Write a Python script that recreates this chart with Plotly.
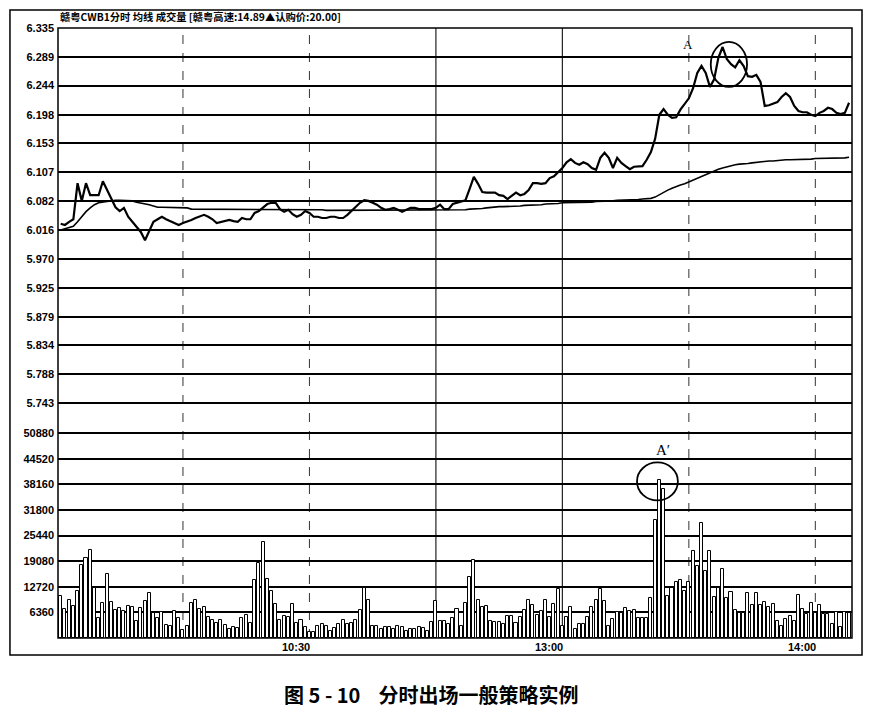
import plotly.graph_objects as go

# ---------------- data ----------------
price = [6.026, 6.024, 6.029, 6.033, 6.090, 6.062, 6.090, 6.071, 6.071, 6.071,
         6.093, 6.079, 6.067, 6.052, 6.046, 6.051, 6.037, 6.029, 6.022, 6.013,
         6.000, 6.014, 6.029, 6.033, 6.037, 6.033, 6.030, 6.026, 6.024, 6.027,
         6.029, 6.032, 6.035, 6.038, 6.040, 6.037, 6.033, 6.027, 6.029, 6.030,
         6.032, 6.030, 6.029, 6.035, 6.033, 6.033, 6.043, 6.046, 6.051, 6.057,
         6.059, 6.059, 6.049, 6.045, 6.048, 6.041, 6.037, 6.040, 6.046, 6.043,
         6.037, 6.037, 6.035, 6.035, 6.037, 6.037, 6.035, 6.035, 6.040, 6.046,
         6.052, 6.059, 6.063, 6.062, 6.059, 6.056, 6.051, 6.048, 6.049, 6.051,
         6.048, 6.045, 6.048, 6.051, 6.051, 6.049, 6.049, 6.049, 6.049, 6.051,
         6.056, 6.049, 6.049, 6.057, 6.059, 6.060, 6.063, 6.081, 6.100, 6.089,
         6.076, 6.075, 6.075, 6.075, 6.071, 6.070, 6.065, 6.070, 6.075, 6.071,
         6.073, 6.079, 6.090, 6.090, 6.089, 6.090, 6.098, 6.101, 6.108, 6.114,
         6.123, 6.128, 6.122, 6.119, 6.123, 6.120, 6.114, 6.111, 6.130, 6.138,
         6.130, 6.114, 6.130, 6.122, 6.117, 6.112, 6.116, 6.116, 6.117, 6.127,
         6.139, 6.160, 6.198, 6.207, 6.198, 6.193, 6.194, 6.206, 6.215, 6.224,
         6.240, 6.264, 6.275, 6.264, 6.242, 6.254, 6.288, 6.305, 6.286, 6.278,
         6.273, 6.284, 6.275, 6.259, 6.258, 6.261, 6.250, 6.212, 6.213, 6.215,
         6.218, 6.226, 6.232, 6.226, 6.212, 6.204, 6.202, 6.202, 6.198, 6.196,
         6.201, 6.204, 6.209, 6.207, 6.201, 6.199, 6.201, 6.217]

avg_price = [6.016, 6.018, 6.019, 6.022, 6.029, 6.038, 6.045, 6.051, 6.056, 6.059,
             6.060, 6.062, 6.063, 6.063, 6.063, 6.063, 6.063, 6.062, 6.060, 6.059,
             6.057, 6.056, 6.054, 6.052, 6.052, 6.052, 6.051, 6.051, 6.051, 6.051,
             6.051, 6.049, 6.049, 6.049, 6.049, 6.049, 6.049, 6.049, 6.049, 6.049,
             6.049, 6.049, 6.049, 6.049, 6.049, 6.049, 6.048, 6.048, 6.048, 6.048,
             6.048, 6.048, 6.048, 6.048, 6.048, 6.048, 6.048, 6.048, 6.048, 6.048,
             6.048, 6.048, 6.048, 6.047, 6.047, 6.047, 6.047, 6.047, 6.047, 6.047,
             6.047, 6.047, 6.048, 6.048, 6.048, 6.048, 6.048, 6.048, 6.048, 6.048,
             6.048, 6.048, 6.048, 6.048, 6.048, 6.048, 6.048, 6.048, 6.048, 6.048,
             6.048, 6.048, 6.048, 6.048, 6.048, 6.048, 6.048, 6.049, 6.049, 6.050,
             6.050, 6.051, 6.052, 6.052, 6.053, 6.053, 6.053, 6.054, 6.054, 6.054,
             6.055, 6.055, 6.055, 6.056, 6.056, 6.057, 6.057, 6.058, 6.058, 6.059,
             6.059, 6.059, 6.059, 6.060, 6.060, 6.060, 6.060, 6.061, 6.061, 6.062,
             6.062, 6.062, 6.063, 6.063, 6.063, 6.064, 6.064, 6.064, 6.065, 6.065,
             6.066, 6.068, 6.072, 6.076, 6.079, 6.082, 6.085, 6.087, 6.089, 6.092,
             6.095, 6.098, 6.101, 6.104, 6.107, 6.109, 6.112, 6.114, 6.116, 6.117,
             6.119, 6.120, 6.120, 6.121, 6.122, 6.123, 6.123, 6.124, 6.125, 6.125,
             6.126, 6.126, 6.127, 6.127, 6.127, 6.127, 6.128, 6.128, 6.128, 6.129,
             6.129, 6.129, 6.130, 6.130, 6.130, 6.130, 6.130, 6.131]

volume = [10400, 7100, 9340, 7900, 11650, 18030, 19950, 21830, 12490, 5040,
          8770, 15970, 8920, 6860, 7530, 6680, 7920, 7600, 4200, 7350,
          9170, 11250, 6280, 5040, 6430, 3200, 2960, 6680, 5040, 2000,
          2960, 8600, 9340, 7100, 7780, 5290, 4450, 3630, 4450, 3200,
          2140, 2800, 2380, 5040, 5690, 3800, 14300, 18530, 23920, 14560,
          11650, 8350, 4450, 5440, 5290, 8350, 3800, 4370, 2710, 1500,
          1470, 2960, 3380, 2960, 1710, 2380, 3380, 4370, 3380, 3630,
          4370, 6930, 12490, 9340, 2960, 2960, 2310, 2710, 2710, 2140,
          2960, 2710, 1710, 2140, 2310, 2710, 2380, 1710, 3960, 9170,
          4200, 4200, 3380, 5040, 7280, 2950, 8680, 15230, 19330, 9420,
          7620, 8030, 4340, 4100, 3930, 3520, 5410, 5570, 3770, 5160,
          7040, 9420, 8190, 5730, 6630, 9420, 5160, 8440, 12120, 3000,
          5320, 7620, 2290, 3520, 3520, 5160, 7620, 9500, 12120, 9090,
          3110, 4750, 6390, 6100, 7370, 6800, 6960, 5000, 5000, 5000,
          9910, 29300, 39140, 37090, 10420, 12470, 13870, 14520, 11650, 13870,
          21500, 17810, 28470, 16580, 21500, 10180, 12470, 17150, 10010, 11410,
          6890, 6320, 6320, 11080, 8120, 11080, 8120, 9030, 7710, 8370,
          4270, 3040, 4680, 5500, 4270, 10590, 7140, 5910, 8780, 6320,
          8120, 5910, 6070, 3450, 6560, 2630, 6480, 6320]

# minutes after 09:30 (trading minutes, lunch break removed)
minutes = list(range(1, len(price) + 1))

price_ticks = [6.335, 6.289, 6.244, 6.198, 6.153, 6.107, 6.062, 6.016,
               5.970, 5.925, 5.879, 5.834, 5.788, 5.743]
price_tick_text = ["6.335", "6.289", "6.244", "6.198", "6.153", "6.107", "6.082",
                   "6.016", "5.970", "5.925", "5.879", "5.834", "5.788", "5.743"]
vol_ticks = [6360, 12720, 19080, 25440, 31800, 38160, 44520, 50880]
time_tick_pos = [0, 60, 120, 180]
time_tick_text = ["09:30", "10:30", "13:00", "14:00"]
grid_minutes_dashed = [30, 60, 150, 180]
grid_minutes_solid = [90, 120]

title_text = "赣粤CWB1分时 均线 成交量 [赣粤高速:14.89▲认购价:20.00]"
caption_text = "图 5 - 10 &nbsp;&nbsp; 分时出场一般策略实例"

# ---------------- figure ----------------
fig = go.Figure()

fig.add_trace(go.Bar(
    x=minutes, y=volume, yaxis="y2",
    width=0.72,
    marker=dict(color="white", line=dict(color="black", width=1)),
    showlegend=False, hoverinfo="skip",
))
fig.add_trace(go.Scatter(
    x=minutes, y=avg_price, mode="lines",
    line=dict(color="black", width=1.6),
    showlegend=False, hoverinfo="skip",
))
fig.add_trace(go.Scatter(
    x=minutes, y=price, mode="lines",
    line=dict(color="black", width=2.2),
    showlegend=False, hoverinfo="skip",
))

tickfont = dict(family="Liberation Sans, Arial, sans-serif", size=11,
                color="black", weight="bold")

# page body has an 8px margin, so the figure is 8px smaller and shifted
fig.update_layout(
    width=863, height=709,
    margin=dict(l=50, r=19, t=20, b=79),
    paper_bgcolor="white", plot_bgcolor="white",
    bargap=0,
    xaxis=dict(range=[0.36, 188.7], showgrid=False, zeroline=False,
               showticklabels=False, ticks="", showline=False),
    yaxis=dict(domain=[0.3574, 1.0], range=[5.7161, 6.335],
               tickmode="array", tickvals=price_ticks, ticktext=price_tick_text,
               tickfont=tickfont, showgrid=True, gridcolor="black", gridwidth=1.5,
               zeroline=False, ticks="", showline=False, ticklabelstandoff=3,
               automargin=False),
    yaxis2=dict(domain=[0.0, 0.3574], range=[0, 54160],
                tickmode="array", tickvals=vol_ticks,
                ticktext=[str(v) for v in vol_ticks],
                tickfont=tickfont, showgrid=True, gridcolor="black", gridwidth=1.5,
                zeroline=False, ticks="", showline=False, ticklabelstandoff=3,
                automargin=False),
)

shapes = []
for m in grid_minutes_dashed:
    shapes.append(dict(type="line", xref="x", yref="paper", x0=m, x1=m, y0=0, y1=1,
                       line=dict(color="#333333", width=1, dash="dash"), layer="below"))
for m in grid_minutes_solid:
    shapes.append(dict(type="line", xref="x", yref="paper", x0=m, x1=m, y0=0, y1=1,
                       line=dict(color="#222222", width=1.2), layer="below"))
# plot border
shapes.append(dict(type="rect", xref="paper", yref="paper", x0=0, x1=1, y0=0, y1=1,
                   line=dict(color="black", width=1.5)))
# outer frame
shapes.append(dict(type="rect", xref="paper", yref="paper", x0=-0.0605, x1=1.0126,
                   y0=-0.0279, y1=1.0295, line=dict(color="black", width=1.5)))
# circles
shapes.append(dict(type="circle", xref="x", yref="y", x0=155.2, x1=163.8,
                   y0=6.242, y1=6.313, line=dict(color="black", width=1.8)))
shapes.append(dict(type="circle", xref="x", yref="y2", x0=137.7, x1=147.4,
                   y0=34180, y1=43620, line=dict(color="black", width=1.8)))
fig.update_layout(shapes=shapes)

ann = []
for pos, txt in zip(time_tick_pos, time_tick_text):
    ann.append(dict(x=pos, y=0, xref="x", yref="paper", text=txt, showarrow=False,
                    xanchor="right", yanchor="top", yshift=-1, xshift=3,
                    font=dict(family="Liberation Sans, Arial, sans-serif", size=11,
                              color="black", weight="bold")))
ann.append(dict(x=0, y=1.0189, xref="paper", yref="paper", text=title_text,
                showarrow=False, xanchor="left", yanchor="middle",
                font=dict(family="Noto Sans CJK SC", size=10.3, color="black",
                          weight="bold")))
ann.append(dict(x=149.8, y=6.3097, xref="x", yref="y", text="A", showarrow=False,
                xanchor="center", yanchor="middle",
                font=dict(family="Liberation Serif, Times New Roman, serif", size=13,
                          color="black")))
ann.append(dict(x=143.9, y=46700, xref="x", yref="y2", text="A′", showarrow=False,
                xanchor="center", yanchor="middle",
                font=dict(family="Liberation Serif, Times New Roman, serif", size=15,
                          color="black")))
ann.append(dict(x=0.471, y=-0.0934, xref="paper", yref="paper", text=caption_text,
                showarrow=False, xanchor="center", yanchor="middle",
                font=dict(family="Noto Sans CJK SC", size=20, color="black",
                          weight="bold")))
fig.update_layout(annotations=ann)

fig.write_html("out.html")
